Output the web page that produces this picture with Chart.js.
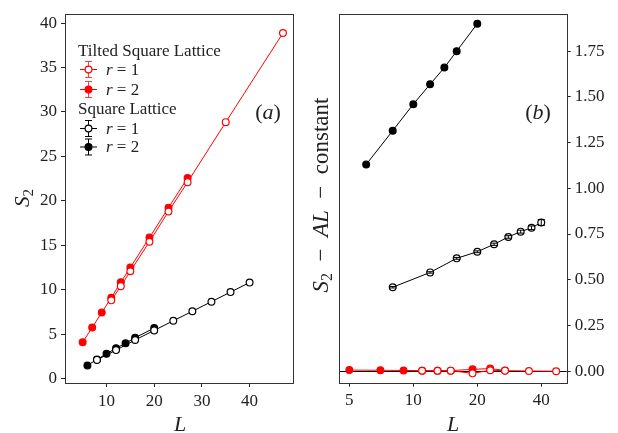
<!DOCTYPE html>
<html>
<head>
<meta charset="utf-8">
<script src="https://cdn.jsdelivr.net/npm/chart.js@4.4.0/dist/chart.umd.min.js"></script>
<style>
html, body { margin: 0; padding: 0; background: #fff; }
#wrap { position: relative; width: 618px; height: 433px; }
#left { position: absolute; left: 0; top: 0; width: 300px; height: 433px; }
#right { position: absolute; left: 300px; top: 0; width: 318px; height: 433px; }
</style>
</head>
<body>
<div id="wrap">
  <canvas id="left" width="300" height="433"></canvas>
  <canvas id="right" width="318" height="433"></canvas>
</div>
<script>
// panel (a): S2 vs L
const tiltL2 = [5, 7, 9, 11, 13, 15, 19, 23, 27];
const tiltS2r2 = [4.08, 5.75, 7.42, 9.09, 10.84, 12.5, 15.86, 19.23, 22.57];
const tiltL1 = [11, 13, 15, 19, 23, 27, 35, 47];
const tiltS2r1 = [8.8, 10.4, 12.07, 15.4, 18.8, 22.1, 28.85, 38.88];
const sqL2 = [6, 8, 10, 12, 14, 16, 20];
const sqS2r2 = [1.48, 2.15, 2.78, 3.42, 3.97, 4.6, 5.68];
const sqL1 = [8, 12, 16, 20, 24, 28, 32, 36, 40];
const sqS2r1 = [2.1, 3.2, 4.34, 5.42, 6.5, 7.57, 8.65, 9.73, 10.8];

// panel (b): S2 - AL - constant
const tiltDr2 = [0.006, 0.005, 0.004, 0.003, 0.003, 0.003, 0.010, 0.014, 0.004];
const tiltDr1 = [0.002, 0.002, 0.003, -0.012, 0.005, 0.003, 0.001, 0.0];
const sqDr2 = [1.13, 1.315, 1.46, 1.569, 1.66, 1.75, 1.90];
const sqDr1 = [0.459, 0.54, 0.617, 0.653, 0.694, 0.734, 0.763, 0.784, 0.813];
const sqDr1Err = [0.004, 0.004, 0.005, 0.005, 0.006, 0.007, 0.008, 0.01, 0.016];

// tick labels
const xTicksA = [10, 20, 30, 40];
const yTicksA = [0, 5, 10, 15, 20, 25, 30, 35, 40];
const xTicksB = [5, 10, 20, 40];
const yTicksB = [0, 0.25, 0.5, 0.75, 1.0, 1.25, 1.5, 1.75];

const legendGroups = ['Tilted Square Lattice', 'Square Lattice'];
const legendLabels = ['1', '2'];

const SERIF = "'Liberation Serif', 'DejaVu Serif', serif";
const RED = '#ff0000';
const BLACK = '#000000';
const TXT = '#222222';
const MR = 3.4; // marker radius

function pts(xs, ys) {
    return xs.map((x, i) => ({ x: x, y: ys[i] }));
}

function series(xs, ys, color, open, extra) {
    return Object.assign({
        data: pts(xs, ys),
        showLine: true,
        borderColor: color,
        borderWidth: 1,
        pointRadius: MR,
        pointHoverRadius: MR,
        pointBorderWidth: 1.2,
        pointBorderColor: color,
        pointBackgroundColor: open ? '#ffffff' : color
    }, extra || {});
}

function richWidth(ctx, parts) {
    let w = 0;
    parts.forEach(p => { ctx.font = p.f; w += ctx.measureText(p.t).width; });
    return w;
}
function drawRich(ctx, parts, x, y, align, rot) {
    ctx.save();
    ctx.translate(x, y);
    if (rot) ctx.rotate(rot);
    const w = richWidth(ctx, parts);
    let cx = align === 'center' ? -w / 2 : 0;
    ctx.textAlign = 'left';
    ctx.textBaseline = 'alphabetic';
    ctx.fillStyle = TXT;
    parts.forEach(p => {
        ctx.font = p.f;
        ctx.fillText(p.t, cx, p.dy || 0);
        cx += ctx.measureText(p.t).width;
    });
    ctx.restore();
}
const it = s => 'italic ' + s + 'px ' + SERIF;
const rm = s => s + 'px ' + SERIF;

function errBar(ctx, x, y0, y1, cap, color) {
    ctx.beginPath();
    ctx.moveTo(x, y0); ctx.lineTo(x, y1);
    ctx.moveTo(x - cap, y0); ctx.lineTo(x + cap, y0);
    ctx.moveTo(x - cap, y1); ctx.lineTo(x + cap, y1);
    ctx.strokeStyle = color;
    ctx.lineWidth = 1;
    ctx.stroke();
}

function marker(ctx, x, y, color, open) {
    ctx.beginPath();
    ctx.arc(x, y, MR, 0, Math.PI * 2);
    ctx.fillStyle = open ? '#ffffff' : color;
    ctx.fill();
    ctx.lineWidth = 1.2;
    ctx.strokeStyle = color;
    ctx.stroke();
}

// frame around plot area + error bars
const framePlugin = {
    id: 'frame',
    afterDatasetsDraw(chart) {
        const ctx = chart.ctx;
        chart.data.datasets.forEach((ds, di) => {
            if (!ds.err) return;
            const meta = chart.getDatasetMeta(di);
            meta.data.forEach((pt, i) => {
                const ys = chart.scales.y;
                const v = ds.data[i].y;
                errBar(ctx, pt.x, ys.getPixelForValue(v + ds.err[i]), ys.getPixelForValue(v - ds.err[i]), 3.5, ds.borderColor);
            });
        });
    },
    afterDraw(chart) {
        const a = chart.chartArea, ctx = chart.ctx;
        ctx.save();
        ctx.strokeStyle = '#333';
        ctx.lineWidth = 1;
        ctx.strokeRect(Math.round(a.left) + 0.5, Math.round(a.top) + 0.5,
            Math.round(a.right - a.left), Math.round(a.bottom - a.top));
        ctx.restore();
    }
};

const leftText = {
    id: 'leftText',
    afterDraw(chart) {
        const ctx = chart.ctx;
        drawRich(ctx, [{ t: 'S', f: it(21) }, { t: '2', f: rm(15), dy: 4 }], 29, 198, 'center', -Math.PI / 2);
        drawRich(ctx, [{ t: 'L', f: it(22) }], 180, 431, 'center');
        drawRich(ctx, [{ t: '(', f: rm(22) }, { t: 'a', f: it(22) }, { t: ')', f: rm(22) }], 268, 119, 'center');

        // legend
        const groups = [
            { y: 52, color: RED, rows: [69.5, 89.5] },
            { y: 110, color: BLACK, rows: [128.5, 147] }
        ];
        ctx.save();
        groups.forEach((g, gi) => {
            ctx.font = rm(17);
            ctx.fillStyle = TXT;
            ctx.textBaseline = 'middle';
            ctx.textAlign = 'left';
            ctx.fillText(legendGroups[gi], 78, g.y);
            g.rows.forEach((ry, ri) => {
                const ec = gi === 0 ? 'rgba(255,0,0,0.75)' : BLACK;
                ctx.beginPath();
                ctx.moveTo(80, ry); ctx.lineTo(97, ry);
                ctx.strokeStyle = g.color; ctx.lineWidth = 1; ctx.stroke();
                errBar(ctx, 88.5, ry - 8, ry + 8, 3.5, ec);
                marker(ctx, 88.5, ry, g.color, ri === 0);
                drawRich(ctx, [{ t: 'r', f: it(17) }, { t: ' = ' + legendLabels[ri], f: rm(17) }], 106, ry + 5, 'left');
            });
        });
        ctx.restore();
    }
};

const rightText = {
    id: 'rightText',
    beforeDatasetsDraw(chart) {
        const a = chart.chartArea, ctx = chart.ctx;
        const y0 = Math.round(chart.scales.y.getPixelForValue(0)) + 0.5;
        ctx.save();
        ctx.beginPath();
        ctx.moveTo(a.left, y0); ctx.lineTo(a.right, y0);
        ctx.strokeStyle = BLACK; ctx.lineWidth = 1; ctx.stroke();
        ctx.restore();
    },
    afterDraw(chart) {
        const ctx = chart.ctx;
        drawRich(ctx, [
            { t: 'S', f: it(23) }, { t: '2', f: rm(16), dy: 4 },
            { t: '\u2002\u2212\u2002', f: rm(23) }, { t: 'AL', f: it(23) },
            { t: '\u2002\u2212\u2002constant', f: rm(23) }
        ], 28, 195, 'center', -Math.PI / 2);
        drawRich(ctx, [{ t: 'L', f: it(22) }], 153, 431, 'center');
        drawRich(ctx, [{ t: '(', f: rm(22) }, { t: 'b', f: it(22) }, { t: ')', f: rm(22) }], 238, 119, 'center');
    }
};

function axisBase(ticks, fmt) {
    return {
        afterBuildTicks: s => { s.ticks = ticks.map(v => ({ value: v })); },
        grid: { display: true, drawOnChartArea: false, drawTicks: true, tickLength: 4, color: '#222', lineWidth: 1 },
        border: { display: false },
        ticks: { font: { family: SERIF, size: 17 }, color: TXT, padding: 4, maxRotation: 0, autoSkip: false, callback: fmt }
    };
}

const commonOpts = {
    responsive: false,
    animation: false,
    events: [],
    plugins: { legend: { display: false }, tooltip: { enabled: false } }
};

new Chart(document.getElementById('left'), {
    type: 'scatter',
    data: {
        datasets: [
            series(tiltL1, tiltS2r1, RED, true),
            series(tiltL2, tiltS2r2, RED, false),
            series(sqL1, sqS2r1, BLACK, true),
            series(sqL2, sqS2r2, BLACK, false)
        ]
    },
    options: Object.assign({}, commonOpts, {
        layout: { padding: { left: 0, top: 10, right: 7, bottom: 0 } },
        scales: {
            x: Object.assign(axisBase(xTicksA, v => v), {
                type: 'linear', min: 1.3, max: 49.1,
                afterFit: s => { s.height = 50; }
            }),
            y: Object.assign(axisBase(yTicksA, v => v), {
                type: 'linear', min: -0.5, max: 41,
                afterFit: s => { s.width = 65; }
            })
        }
    }),
    plugins: [framePlugin, leftText]
});

new Chart(document.getElementById('right'), {
    type: 'scatter',
    data: {
        datasets: [
            series(tiltL1, tiltDr1, RED, true),
            series(tiltL2, tiltDr2, RED, false),
            series(sqL1, sqDr1, BLACK, true, { err: sqDr1Err }),
            series(sqL2, sqDr2, BLACK, false)
        ]
    },
    options: Object.assign({}, commonOpts, {
        layout: { padding: { left: 39, top: 9, right: 0, bottom: 0 } },
        scales: {
            x: Object.assign(axisBase(xTicksB, v => String(v)), {
                type: 'logarithmic', min: 4.47, max: 52.7,
                afterFit: s => { s.height = 50.3; }
            }),
            y: Object.assign(axisBase(yTicksB, v => v.toFixed(2)), {
                type: 'linear', position: 'right', min: -0.063, max: 1.952,
                afterFit: s => { s.width = 51.3; }
            })
        }
    }),
    plugins: [framePlugin, rightText]
});
</script>
</body>
</html>
